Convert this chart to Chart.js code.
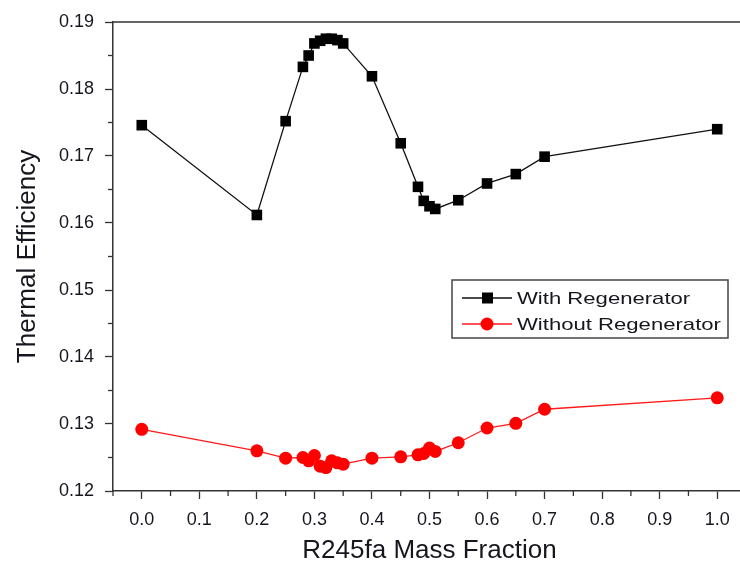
<!DOCTYPE html>
<html>
<head>
<meta charset="utf-8">
<script src="https://cdn.jsdelivr.net/npm/chart.js@4/dist/chart.umd.min.js"></script>
<style>
  html, body { margin: 0; padding: 0; background: #fff; overflow: hidden; }
  #wrap { width: 760px; height: 567px; }
</style>
</head>
<body>
<div id="wrap"><canvas id="area" width="760" height="567"></canvas></div>
<script>
// R245fa mass fraction (x) and thermal efficiency for both cycles
var massFraction = [0, 0.2, 0.25, 0.28, 0.29, 0.30, 0.31, 0.32, 0.33, 0.34, 0.35, 0.40, 0.45, 0.48, 0.49, 0.50, 0.51, 0.55, 0.60, 0.65, 0.70, 1.0];
var withRegen = [0.1746, 0.1612, 0.1752, 0.1833, 0.1850, 0.1868, 0.1872, 0.1875, 0.1875, 0.1873, 0.1868, 0.1819, 0.1719, 0.1654, 0.1633, 0.1625, 0.1621, 0.1634, 0.1659, 0.1673, 0.1699, 0.1740];
var withoutRegen = [0.1292, 0.1260, 0.1249, 0.1250, 0.1245, 0.1253, 0.1237, 0.1235, 0.1245, 0.1242, 0.1240, 0.1249, 0.1251, 0.1254, 0.1256, 0.1264, 0.1259, 0.1272, 0.1294, 0.1301, 0.1322, 0.1339];
var seriesLabels = ["With Regenerator", "Without Regenerator"];
var xTitle = "R245fa Mass Fraction";
var yTitle = "Thermal Efficiency";

var FONT = "'Liberation Sans', Arial, sans-serif";
var TEXT = "#16161e";

function pts(ys) {
  return massFraction.map(function (x, i) { return { x: x, y: ys[i] }; });
}

// frame, minor ticks and the boxed legend drawn over the chart
var extras = {
  id: 'extras',
  afterDraw: function (chart) {
    var c = chart.ctx, a = chart.chartArea;
    var xs = chart.scales.x, ys = chart.scales.y;
    c.save();
    c.strokeStyle = '#333';
    c.lineWidth = 1.5;
    c.beginPath();
    c.moveTo(a.left, a.top); c.lineTo(a.right, a.top);
    c.lineTo(a.right, a.bottom);
    c.stroke();
    // minor ticks
    c.lineWidth = 1.3;
    for (var v = -0.05; v <= 1.05; v += 0.1) {
      var px = xs.getPixelForValue(v);
      c.beginPath(); c.moveTo(px, a.bottom); c.lineTo(px, a.bottom + 5); c.stroke();
    }
    for (var w = 0.125; w < 0.19; w += 0.01) {
      var py = ys.getPixelForValue(w);
      c.beginPath(); c.moveTo(a.left - 5, py); c.lineTo(a.left, py); c.stroke();
    }
    // legend
    var lx = 452, ly = 280, lw = 276, lh = 58;
    c.strokeStyle = '#444';
    c.lineWidth = 1.5;
    c.strokeRect(lx, ly, lw, lh);
    c.font = '17px ' + FONT;
    c.textBaseline = 'middle';
    chart.data.datasets.forEach(function (ds, i) {
      var yy = ly + 18 + i * 26;
      c.strokeStyle = ds.borderColor;
      c.lineWidth = 1.3;
      c.beginPath(); c.moveTo(lx + 10, yy); c.lineTo(lx + 60, yy); c.stroke();
      c.fillStyle = ds.backgroundColor;
      if (ds.pointStyle === 'rect') {
        c.fillRect(lx + 30, yy - 5.5, 11, 11);
      } else {
        c.beginPath(); c.arc(lx + 35, yy, 6.5, 0, Math.PI * 2); c.fill();
      }
      // legend text in the source is drawn wide
      c.save();
      c.translate(lx + 65, yy + 1);
      c.scale(1.3, 1);
      c.fillStyle = TEXT;
      c.fillText(ds.label, 0, 0);
      c.restore();
    });
    c.restore();
  }
};

new Chart(document.getElementById('area'), {
  type: 'line',
  data: {
    datasets: [
      {
        label: seriesLabels[0],
        data: pts(withRegen),
        borderColor: '#111',
        backgroundColor: '#000',
        borderWidth: 1.3,
        pointStyle: 'rect',
        pointRadius: 7.5,
        pointBorderWidth: 0
      },
      {
        label: seriesLabels[1],
        data: pts(withoutRegen),
        borderColor: '#ff1a1a',
        backgroundColor: '#ff0000',
        borderWidth: 1.3,
        pointStyle: 'circle',
        pointRadius: 6.5,
        pointBorderWidth: 0
      }
    ]
  },
  options: {
    responsive: false,
    animation: false,
    layout: { padding: { top: 22, right: 14, left: 0, bottom: 0 } },
    plugins: { legend: { display: false }, tooltip: { enabled: false } },
    scales: {
      x: {
        type: 'linear',
        min: -0.05,
        max: 1.05,
        afterFit: function (s) { s.height = 76; },
        afterBuildTicks: function (s) {
          s.ticks = [0, 0.1, 0.2, 0.3, 0.4, 0.5, 0.6, 0.7, 0.8, 0.9, 1.0].map(function (v) { return { value: v }; });
        },
        ticks: {
          callback: function (v) { return v.toFixed(1); },
          color: TEXT,
          font: { family: FONT, size: 18 },
          padding: 10,
          maxRotation: 0
        },
        grid: { drawOnChartArea: false, tickLength: 8, tickColor: '#333', tickWidth: 1.3 },
        border: { color: '#333', width: 1.5 },
        title: {
          display: true,
          text: xTitle,
          color: TEXT,
          font: { family: FONT, size: 26 },
          padding: { top: 0, bottom: 1 }
        }
      },
      y: {
        min: 0.12,
        max: 0.19,
        afterFit: function (s) { s.width = 113; },
        afterBuildTicks: function (s) {
          s.ticks = [0.12, 0.13, 0.14, 0.15, 0.16, 0.17, 0.18, 0.19].map(function (v) { return { value: v }; });
        },
        ticks: {
          callback: function (v) { return v.toFixed(2); },
          color: TEXT,
          font: { family: FONT, size: 18 },
          padding: 11
        },
        grid: { drawOnChartArea: false, tickLength: 8, tickColor: '#333', tickWidth: 1.3 },
        border: { color: '#333', width: 1.5 },
        title: {
          display: true,
          text: yTitle,
          color: TEXT,
          font: { family: FONT, size: 26 },
          padding: { top: 12, bottom: 0 }
        }
      }
    }
  },
  plugins: [extras]
});
</script>
</body>
</html>
